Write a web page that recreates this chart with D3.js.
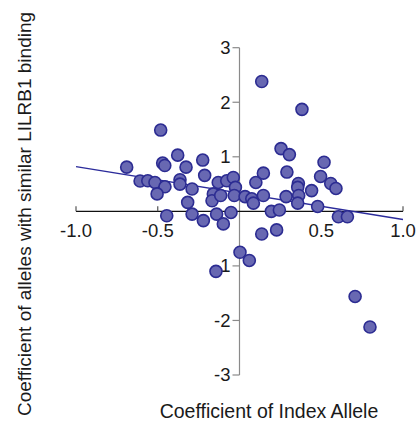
<!DOCTYPE html>
<html>
<head>
<meta charset="utf-8">
<script src="https://cdn.jsdelivr.net/npm/d3@7"></script>
<style>
  html, body { margin: 0; padding: 0; background: #fff; }
  svg text { font-family: "Liberation Sans", Arial, sans-serif; fill: #1a1a1a; }
</style>
</head>
<body>
<svg id="chart" width="418" height="421"></svg>
<script>
// Data
const xValues = [0.136, 0.382, -0.482, -0.69, -0.378, -0.225, -0.47, -0.457, -0.327, -0.213,
  -0.608, -0.561, -0.517, -0.456, -0.504, -0.364, -0.364, -0.29, -0.317, -0.445,
  -0.29, -0.221, -0.14, -0.099, -0.052, -0.13, -0.078, -0.038, -0.025, -0.16,
  -0.168, -0.115, -0.032, 0.034, 0.075, 0.085, 0.146, 0.1, 0.146, 0.254,
  0.305, 0.29, 0.285, 0.36, 0.356, 0.362, 0.356, 0.441, 0.496, 0.517,
  0.558, 0.59, 0.478, 0.605, 0.66, 0.195, 0.244, 0.227, 0.136, 0.003,
  0.06, -0.144, 0.707, 0.798];
const yValues = [2.38, 1.87, 1.49, 0.81, 1.03, 0.94, 0.885, 0.84, 0.81, 0.66,
  0.556, 0.56, 0.53, 0.45, 0.32, 0.58, 0.50, 0.41, 0.165, -0.08,
  -0.05, -0.17, -0.05, -0.23, -0.02, 0.53, 0.56, 0.62, 0.44, 0.32,
  0.195, 0.29, 0.29, 0.27, 0.23, 0.15, 0.29, 0.53, 0.70, 1.15,
  1.04, 0.72, 0.27, 0.51, 0.44, 0.29, 0.15, 0.38, 0.64, 0.90,
  0.51, 0.42, 0.09, -0.10, -0.10, 0.0, 0.024, -0.34, -0.415, -0.75,
  -0.90, -1.10, -1.56, -2.12];
const fitX = [-1, 1];
const fitY = [0.82, -0.15];
const xTicks = [-1.0, -0.5, 0.5, 1.0];
const xTickLabels = ["-1.0", "-0.5", "0.5", "1.0"];
const yTicks = [-3, -2, -1, 1, 2, 3];
const yTickLabels = ["-3", "-2", "-1", "1", "2", "3"];
const xTitle = "Coefficient of Index Allele";
const yTitle = "Coefficient of alleles with similar LILRB1  binding";

const svg = d3.select("#chart");
const x = d3.scaleLinear().domain([-1, 1]).range([76, 403]);
const y = d3.scaleLinear().domain([-3, 3]).range([375, 47.7]);

// y axis (vertical line at x=0)
const yAxisG = svg.append("g").attr("transform", `translate(${x(0)},0)`);
yAxisG.append("line")
  .attr("x1", 0).attr("x2", 0).attr("y1", y(3)).attr("y2", y(-3))
  .attr("stroke", "#8a8a8a").attr("stroke-width", 1.2);
yAxisG.selectAll("line.tick").data(yTicks).join("line")
  .attr("class", "tick")
  .attr("x1", -7).attr("x2", 0)
  .attr("y1", d => y(d)).attr("y2", d => y(d))
  .attr("stroke", "#8a8a8a").attr("stroke-width", 1.2);
yAxisG.selectAll("text").data(yTicks).join("text")
  .attr("x", -9).attr("y", d => y(d)).attr("dy", "0.35em")
  .attr("text-anchor", "end").attr("font-size", 18.5)
  .text((d, i) => yTickLabels[i]);

// x axis (horizontal line at y=0)
const xAxisG = svg.append("g").attr("transform", `translate(0,${y(0)})`);
xAxisG.append("line")
  .attr("x1", x(-1)).attr("x2", x(1)).attr("y1", 0).attr("y2", 0)
  .attr("stroke", "#111").attr("stroke-width", 1.3);
xAxisG.selectAll("line.tick").data(xTicks).join("line")
  .attr("class", "tick")
  .attr("x1", d => x(d)).attr("x2", d => x(d))
  .attr("y1", -5).attr("y2", 0)
  .attr("stroke", "#555").attr("stroke-width", 1.2);
xAxisG.selectAll("text").data(xTicks).join("text")
  .attr("x", d => x(d)).attr("y", 26)
  .attr("text-anchor", "middle").attr("font-size", 18.5)
  .text((d, i) => xTickLabels[i]);

// regression line
svg.append("line")
  .attr("x1", x(fitX[0])).attr("y1", y(fitY[0]))
  .attr("x2", x(fitX[1])).attr("y2", y(fitY[1]))
  .attr("stroke", "#2b2b9b").attr("stroke-width", 1.5);

// points
const pts = xValues.map((v, i) => ({ x: v, y: yValues[i] }));
svg.append("g").selectAll("circle").data(pts).join("circle")
  .attr("cx", d => x(d.x)).attr("cy", d => y(d.y)).attr("r", 6)
  .attr("fill", "#6868b2").attr("stroke", "#2c2c92").attr("stroke-width", 1.6);

// titles
svg.append("text")
  .attr("x", 269).attr("y", 418)
  .attr("text-anchor", "middle").attr("font-size", 19.5)
  .text(xTitle);
svg.append("text")
  .attr("transform", "translate(31,214) rotate(-90)")
  .attr("text-anchor", "middle").attr("font-size", 19)
  .text(yTitle);
</script>
</body>
</html>
